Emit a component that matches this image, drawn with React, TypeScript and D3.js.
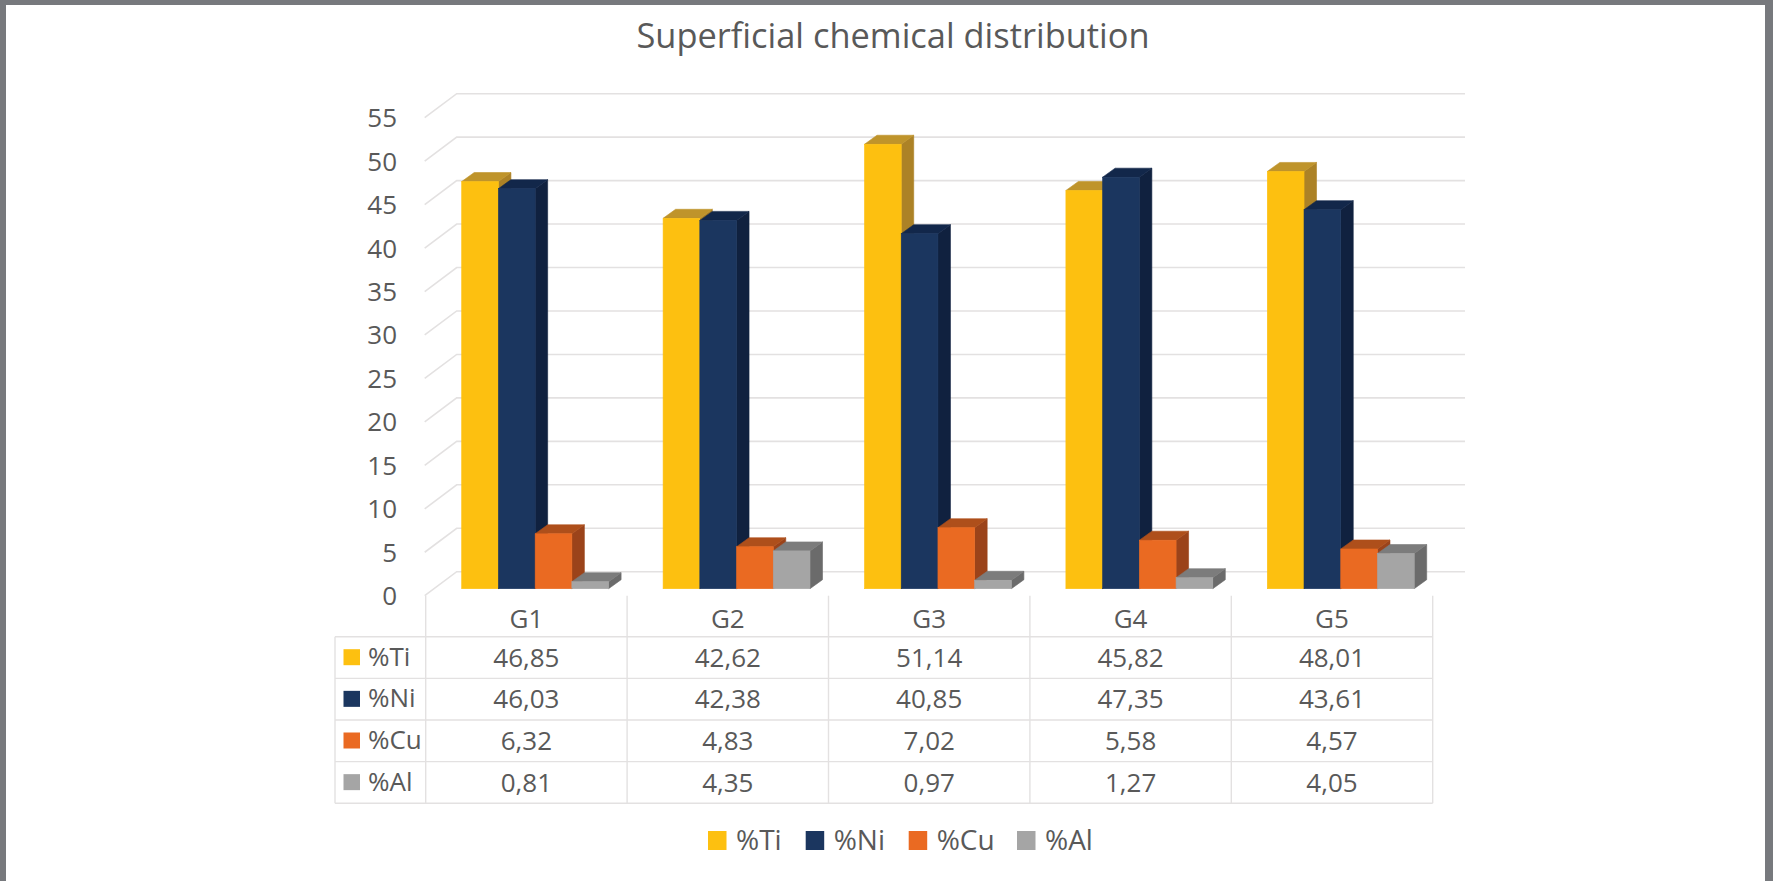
import { useEffect, useRef } from "react";
import * as d3 from "d3";

const groups = ["G1", "G2", "G3", "G4", "G5"];
const seriesNames = ["%Ti", "%Ni", "%Cu", "%Al"];
const tiValues = [46.85, 42.62, 51.14, 45.82, 48.01];
const niValues = [46.03, 42.38, 40.85, 47.35, 43.61];
const cuValues = [6.32, 4.83, 7.02, 5.58, 4.57];
const alValues = [0.81, 4.35, 0.97, 1.27, 4.05];
const seriesValues = [tiValues, niValues, cuValues, alValues];
const yTicks = [0, 5, 10, 15, 20, 25, 30, 35, 40, 45, 50, 55];

const frontColors = ["#fdc010", "#1b365f", "#ea6a22", "#a5a5a5"];
const topColors = ["#bf942b", "#12274a", "#ae4f1b", "#7c7c7c"];
const sideColors = ["#ac8226", "#10213f", "#9b431a", "#6b6b6b"];

const WIDTH = 1773;
const HEIGHT = 881;
const FONT = "'Open Sans', sans-serif";
const TEXT = "#595959";
const GRID = "#e3e1e1";

const comma = (v: number) => v.toFixed(2).replace(".", ",");

export default function App() {
  const svgRef = useRef<SVGSVGElement>(null);

  useEffect(() => {
    const svg = d3.select(svgRef.current!);
    svg.selectAll("*").remove();

    // page frame from the screenshot
    svg.append("rect").attr("width", WIDTH).attr("height", HEIGHT).attr("fill", "#77797d");
    svg.append("rect").attr("x", 6).attr("y", 5).attr("width", 1759).attr("height", 876).attr("fill", "#fff");

    svg.append("text")
      .attr("x", 893)
      .attr("y", 48)
      .attr("text-anchor", "middle")
      .attr("font-family", FONT)
      .attr("font-size", 34.4)
      .attr("fill", TEXT)
      .text("Superficial chemical distribution");

    // Front of the floor, where the axis labels sit
    const yAxis = d3.scaleLinear().domain([0, 55]).range([595.7, 117.7]);
    // Front face of the bars is a little behind that
    const yBar = d3.scaleLinear().domain([0, 55]).range([588.7, 110.7]);
    const wallDx = 31;
    const wallDy = 24;
    const barDx = 12.5;
    const barDy = 9;

    const xGroup = d3.scaleBand<string>().domain(groups).range([425.7, 1432.7]);
    const xBar = d3
      .scaleBand<string>()
      .domain(seriesNames)
      .range([36, xGroup.bandwidth() - 18.5]);

    const poly = (pts: [number, number][]) => d3.line()(pts) + "Z";

    // Layer 1: walls and gridlines
    const gridG = svg.append("g").attr("stroke", GRID).attr("stroke-width", 1.6).attr("fill", "none");
    for (const t of yTicks) {
      const y = yAxis(t);
      gridG.append("path").attr(
        "d",
        d3.line()([
          [xGroup.range()[0] - 1, y],
          [xGroup.range()[0] + wallDx, y - wallDy],
          [1465, y - wallDy],
        ])
      );
      svg.append("text")
        .attr("x", 397)
        .attr("y", y + 9.5)
        .attr("text-anchor", "end")
        .attr("font-family", FONT)
        .attr("font-size", 26)
        .attr("fill", TEXT)
        .text(String(t));
    }

    // Layer 2: bars, left to right so each one covers its neighbour's side
    const barsG = svg.append("g").attr("stroke-width", 0.6);
    groups.forEach((g, gi) => {
      seriesNames.forEach((s, si) => {
        const x0 = xGroup(g)! + xBar(s)!;
        const x1 = x0 + xBar.bandwidth();
        const yTop = yBar(seriesValues[si][gi]);
        const yBase = yBar(0);
        barsG.append("path")
          .attr("d", poly([[x1, yTop], [x1 + barDx, yTop - barDy], [x1 + barDx, yBase - barDy], [x1, yBase]]))
          .attr("fill", sideColors[si])
          .attr("stroke", sideColors[si]);
        barsG.append("path")
          .attr("d", poly([[x0, yTop], [x0 + barDx, yTop - barDy], [x1 + barDx, yTop - barDy], [x1, yTop]]))
          .attr("fill", topColors[si])
          .attr("stroke", topColors[si]);
        barsG.append("rect")
          .attr("x", x0)
          .attr("y", yTop)
          .attr("width", x1 - x0)
          .attr("height", yBase - yTop)
          .attr("fill", frontColors[si])
          .attr("stroke", frontColors[si]);
      });
    });

    // Layer 3: data table
    const tableLeft = 335;
    const rowY = d3.scaleBand<string>().domain(seriesNames).range([636.7, 803.3]);
    const tableG = svg.append("g").attr("stroke", GRID).attr("stroke-width", 1.4);
    for (const y of [...seriesNames.map((s) => rowY(s)!), 803.3]) {
      tableG.append("line")
        .attr("x1", tableLeft).attr("x2", xGroup.range()[1])
        .attr("y1", y).attr("y2", y);
    }
    tableG.append("line")
      .attr("x1", tableLeft).attr("x2", tableLeft)
      .attr("y1", 636.7).attr("y2", 803.3);
    for (const x of [...groups.map((g) => xGroup(g)!), xGroup.range()[1]]) {
      tableG.append("line")
        .attr("x1", x).attr("x2", x)
        .attr("y1", 595.7).attr("y2", 803.3);
    }

    const cellText = (x: number, y: number, label: string, anchor = "middle", size = 26) =>
      svg.append("text")
        .attr("x", x)
        .attr("y", y)
        .attr("text-anchor", anchor)
        .attr("font-family", FONT)
        .attr("font-size", size)
        .attr("fill", TEXT)
        .text(label);

    groups.forEach((g) => {
      cellText(xGroup(g)! + xGroup.bandwidth() / 2, 628, g);
    });
    seriesNames.forEach((s, si) => {
      const y = rowY(s)!;
      svg.append("rect")
        .attr("x", 343.5)
        .attr("y", y + 12.5)
        .attr("width", 16.5)
        .attr("height", 16)
        .attr("fill", frontColors[si]);
      cellText(368, y + 29, s, "start");
      groups.forEach((g, gi) => {
        cellText(xGroup(g)! + xGroup.bandwidth() / 2, y + 30, comma(seriesValues[si][gi]));
      });
    });

    // Layer 4: legend
    const legendX = d3.scaleOrdinal<string, number>().domain(seriesNames).range([708, 805.7, 908.7, 1017]);
    seriesNames.forEach((s, si) => {
      svg.append("rect")
        .attr("x", legendX(s))
        .attr("y", 831)
        .attr("width", 18.5)
        .attr("height", 19)
        .attr("fill", frontColors[si]);
      cellText(legendX(s) + 28, 850, s, "start", 28);
    });
  }, []);

  return (
    <svg
      ref={svgRef}
      width={WIDTH}
      height={HEIGHT}
      style={{ position: "absolute", left: 0, top: 0, display: "block" }}
    />
  );
}
